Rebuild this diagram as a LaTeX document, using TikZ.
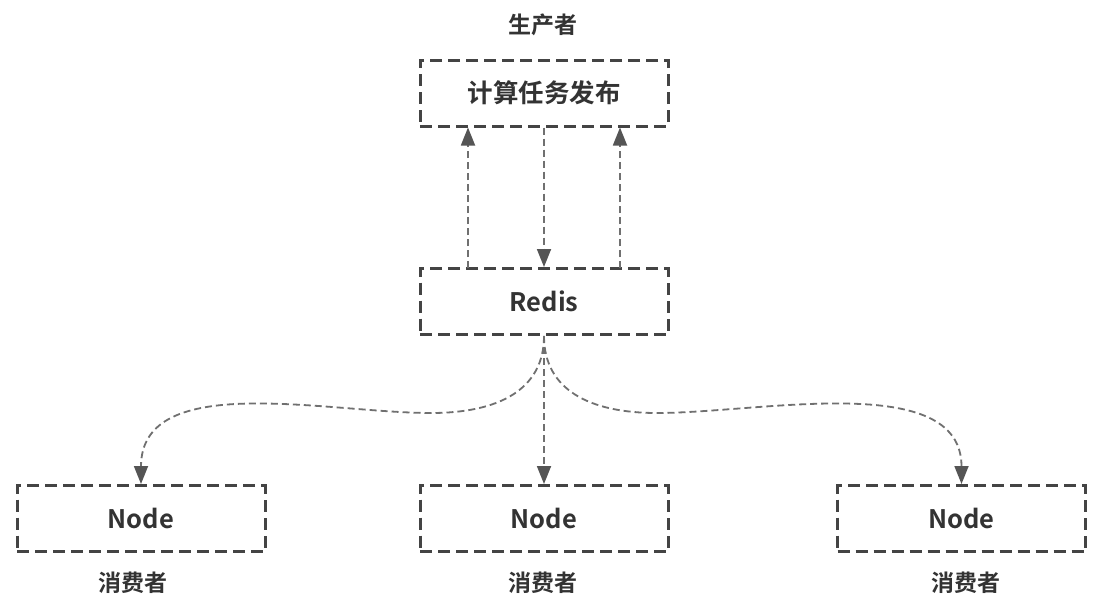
\documentclass[tikz,border=0pt]{standalone}
\usepackage{fontspec}
\setmainfont{Noto Sans CJK SC}[BoldFont={* Bold}]
\newfontfamily\cjkb{Noto Sans CJK SC Bold}
\usetikzlibrary{arrows.meta}
\definecolor{txt}{HTML}{333333}
\definecolor{boxc}{HTML}{444444}
\definecolor{arr}{HTML}{707070}
\definecolor{tipc}{HTML}{555555}
\tikzset{
  box/.style={draw=boxc, line width=3pt, dash pattern=on 12pt off 6pt, minimum width=248pt, minimum height=66pt,
    inner sep=0pt, text=txt, font=\cjkb\fontsize{25.5}{25.5}\selectfont},
  lbl/.style={text=txt, inner sep=0pt, font=\cjkb\fontsize{23}{23}\selectfont},
  conn/.style={draw=arr, line width=1.8pt, dash pattern=on 7pt off 4pt,
    -{Triangle[width=14pt,length=18pt,fill=tipc,color=tipc]}}
}
\begin{document}
\begin{tikzpicture}[x=1pt,y=-1pt]
\useasboundingbox (0,0) rectangle (1104,611);
\fill[white] (0,0) rectangle (1104,611);
\node[box] (prod) at (544,93) {计算任务发布};
\node[box] (redis) at (544,301.5) {Redis};
\node[box] (n1) at (141,518.5) {Node};
\node[box] (n2) at (544,518.5) {Node};
\node[box] (n3) at (961.5,518.5) {Node};
\node[lbl] (l0) at (543,25) {生产者};
\node[lbl] (l1) at (133,583) {消费者};
\node[lbl] (l2) at (543,583) {消费者};
\node[lbl] (l3) at (966,583) {消费者};
\coordinate (a1) at (468,268);
\coordinate (a2) at (620,268);
\draw[conn] (a1) -- (a1 |- prod.south);
\draw[conn] (a2) -- (a2 |- prod.south);
\draw[conn] (prod.south) -- (redis.north);
\draw[conn] (redis.south) -- (n2.north);
\draw[conn] (redis.south) .. controls (544,390) and (590,413) .. (657,413)
  .. controls (760,413) and (961.5,370) .. (n3.north);
\draw[conn] (redis.south) .. controls (544,390) and (498,413) .. (431,413)
  .. controls (328,413) and (141,370) .. (n1.north);
\end{tikzpicture}
\end{document}
